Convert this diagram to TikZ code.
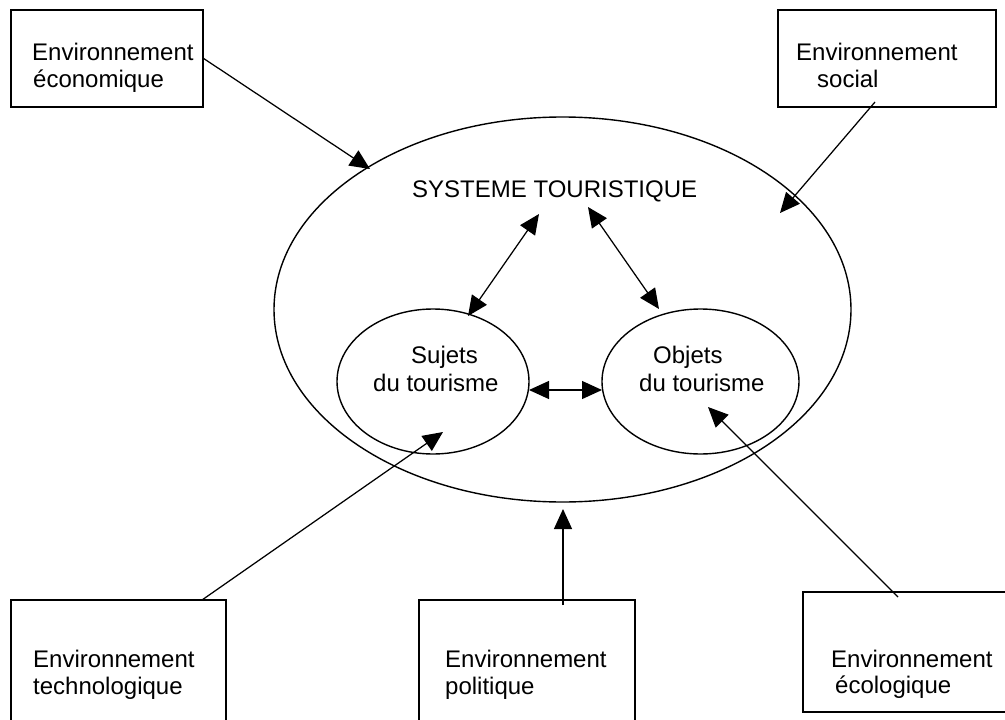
\documentclass[tikz,border=0pt]{standalone}
\usepackage{fontspec}
\setmainfont{Liberation Sans}
\usetikzlibrary{arrows.meta,shapes.geometric}
\begin{document}
\begin{tikzpicture}[x=1pt,y=-1pt,
  box/.style={draw, rectangle, line width=1.4pt, inner sep=0pt},
  oval/.style={draw, ellipse, line width=1.4pt, inner sep=0pt},
  txt/.style={font=\fontsize{24}{28}\selectfont, inner sep=0pt, anchor=base west},
  arr/.style={line width=1.25pt, -{Triangle[length=20pt,width=18pt]}},
  darr/.style={line width=1.25pt, {Triangle[length=20pt,width=18pt]}-{Triangle[length=20pt,width=18pt]}}]
\useasboundingbox (0,0) rectangle (1005,720);
\fill[white] (0,0) rectangle (1005,720);

% outer system ellipse and inner ellipses
\node[oval, minimum width=577pt, minimum height=385pt] (sys) at (562.5,309.5) {};
\node[oval, minimum width=192pt, minimum height=145pt] (suj) at (433,381.5) {};
\node[oval, minimum width=197pt, minimum height=145pt] (obj) at (700.5,381.5) {};

% environment boxes
\node[box, minimum width=192pt, minimum height=97pt] (eco) at (107,58.5) {};
\node[box, minimum width=218pt, minimum height=97pt] (soc) at (887,58.5) {};
\node[box, minimum width=215pt, minimum height=122pt] (tec) at (118.5,661) {};
\node[box, minimum width=216pt, minimum height=122pt] (pol) at (527,661) {};
\node[box, minimum width=207pt, minimum height=120pt] (ecol) at (906.5,652) {};

% texts
\node[txt] (systxt) at (412,197) {SYSTEME TOURISTIQUE};
\node[txt] (suj1) at (411,363) {Sujets};
\node[txt] (suj2) at (373,391) {du tourisme};
\node[txt] (obj1) at (653,363) {Objets};
\node[txt] (obj2) at (639,391) {du tourisme};
\node[txt] (eco1) at (32,60) {Environnement};
\node[txt] (eco2) at (33,87) {économique};
\node[txt] (soc1) at (796,60) {Environnement};
\node[txt] (soc2) at (817,87) {social};
\node[txt] (tec1) at (33,667) {Environnement};
\node[txt] (tec2) at (33,694) {technologique};
\node[txt] (pol1) at (445,667) {Environnement};
\node[txt] (pol2) at (445,694) {politique};
\node[txt] (ecol1) at (831,667) {Environnement};
\node[txt] (ecol2) at (835,693) {écologique};

% connector end points
\coordinate (ecoTip) at (370,169);
\coordinate (socStart) at (875,102);
\coordinate (socTip) at (780,213);
\coordinate (tecStart) at (202,600);
\coordinate (tecTip) at (443,432);
\coordinate (polStart) at (563,605);
\coordinate (polTip) at (563,509);
\coordinate (ecolStart) at (898,597);
\coordinate (ecolTip) at (708,407);
\coordinate (sysL) at (539,214);
\coordinate (sujTop) at (468,316);
\coordinate (sysR) at (588,207);
\coordinate (objTop) at (659,309);
\coordinate (sujR) at (529,390);
\coordinate (objL) at (602,390);

% connectors
\draw[arr] (eco.east) -- (ecoTip);
\draw[arr] (socStart) -- (socTip);
\draw[arr] (tecStart) -- (tecTip);
\draw[arr] (polStart) -- (polTip);
\draw[arr] (ecolStart) -- (ecolTip);
\draw[darr] (sysL) -- (sujTop);
\draw[darr] (sysR) -- (objTop);
\draw[darr] (sujR) -- (objL);
\end{tikzpicture}
\end{document}
